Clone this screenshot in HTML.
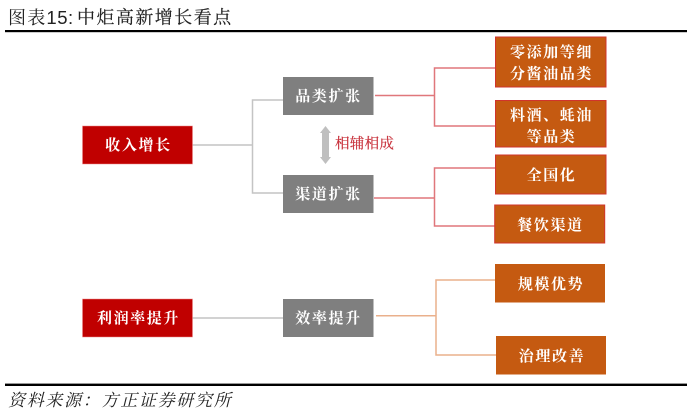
<!DOCTYPE html>
<html><head><meta charset="utf-8">
<style>
html,body{margin:0;padding:0;background:#fff;width:700px;height:413px;overflow:hidden}
svg{display:block}
text{font-family:"Liberation Serif","Noto Serif CJK SC",serif}
.b{fill:#fff;font-weight:700;font-size:15px;letter-spacing:1.6px;text-anchor:middle}
</style></head><body>
<svg width="700" height="413" viewBox="0 0 700 413" xmlns="http://www.w3.org/2000/svg">
<text x="8" y="24" font-size="18" fill="#222" letter-spacing="1.2">图表<tspan font-family="Liberation Sans" font-size="18.5" letter-spacing="0.5">15:</tspan></text>
<text x="77" y="23.500" font-size="18" fill="#222" stroke="#222" stroke-width="0.15" letter-spacing="1.45">中炬高新增长看点</text>
<rect x="5" y="30" width="682" height="2.2" fill="#000"/>
<rect x="5" y="383.6" width="682" height="2.4" fill="#000"/>

<g fill="none" stroke-width="1.5">
<path d="M192 145H252.500M283 100H252.500V193H283M192 318H283" stroke="#c4c4c4"/>
<path d="M375 95.500H434.500M495 68H434.500V126H495M374 198H434.500M495 168H434.500V226H495" stroke="#e0777b"/>
<path d="M376 315.700H436M495 280H436V355H496" stroke="#eab08c"/>
</g>

<rect x="82.500" y="126" width="110" height="38" fill="#c00000" stroke="#e88" stroke-width=".5"/>
<rect x="82.500" y="299" width="110" height="38" fill="#c00000" stroke="#e88" stroke-width=".5"/>
<rect x="283" y="77" width="90.500" height="38" fill="#7f7f7f"/>
<rect x="283" y="175" width="90.500" height="38" fill="#7f7f7f"/>
<rect x="283" y="299" width="90.500" height="38" fill="#7f7f7f"/>

<g fill="#c55a11" stroke="#d0342c" stroke-width="1">
<rect x="495.500" y="37" width="110.500" height="50"/>
<rect x="495.500" y="100.500" width="110.500" height="46.500"/>
<rect x="495.500" y="155" width="110.500" height="39"/>
<rect x="494.700" y="205" width="110" height="38"/>
</g>
<rect x="495" y="264" width="110" height="38.500" fill="#c55a11"/>
<rect x="496" y="336" width="110" height="38.500" fill="#c55a11"/>

<path d="M325.500 126L331 133H329V157H331L325.500 164L320 157H322V133H320Z" fill="#bfbfbf"/>
<text x="335" y="148.500" font-size="14.500" fill="#c8323c" stroke="#c8323c" stroke-width="0.2" letter-spacing="0.300">相辅相成</text>

<text class="b" x="138.500" y="150">收入增长</text>
<text class="b" x="138.500" y="323">利润率提升</text>
<text class="b" x="328.500" y="101">品类扩张</text>
<text class="b" x="328.500" y="199">渠道扩张</text>
<text class="b" x="328.500" y="323">效率提升</text>
<text class="b" x="551.500" y="57">零添加等细</text>
<text class="b" x="551.500" y="78.500">分酱油品类</text>
<text class="b" x="551.500" y="120">料酒、蚝油</text>
<text class="b" x="551.500" y="141.500">等品类</text>
<text class="b" x="551.500" y="180">全国化</text>
<text class="b" x="550.500" y="230">餐饮渠道</text>
<text class="b" x="551" y="289">规模优势</text>
<text class="b" x="552" y="361">治理改善</text>

<text x="8" y="406" font-size="17" fill="#222" letter-spacing="1.7" font-style="italic">资料来源：方正证券研究所</text>
</svg>
</body></html>
